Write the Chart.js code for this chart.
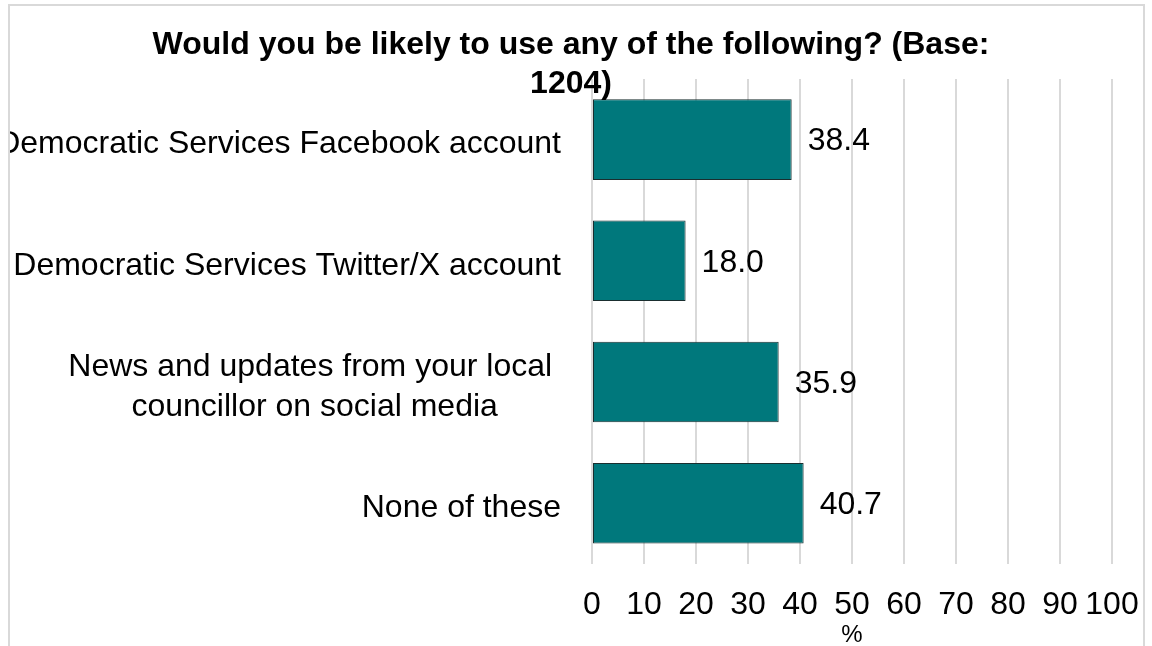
<!DOCTYPE html>
<html>
<head>
<meta charset="utf-8">
<script src="https://cdn.jsdelivr.net/npm/chart.js@4"></script>
<style>
  body { margin: 0; background: #fff; overflow: hidden; }
  .frame {
    position: absolute; left: 8px; top: 4px;
    width: 1133px; height: 700px;
    border: 2px solid #d9d9d9;
    overflow: hidden;
  }
  canvas { position: absolute; left: 0; top: 0; }
</style>
</head>
<body>
<div class="frame">
  <canvas id="likelyChart" width="1133" height="644"></canvas>
</div>
<script>
// Chart data
var titleLines = ['Would you be likely to use any of the following? (Base:', '1204)'];
var categories = [
    ['Democratic Services Facebook account'],
    ['Democratic Services Twitter/X account'],
    ['News and updates from your local ', 'councillor on social media'],
    ['None of these']
];
var percentValues = [38.4, 18.0, 35.9, 40.7];
var xTicks = [0, 10, 20, 30, 40, 50, 60, 70, 80, 90, 100];
var xTitle = '%';

var fontFamily = '"Liberation Sans", Arial, sans-serif';

// Title drawn on top of the plot (it overlaps the gridlines in the original)
var titlePlugin = {
    id: 'overlayTitle',
    afterDraw: function (chart) {
        var ctx = chart.ctx;
        ctx.save();
        ctx.font = 'bold 32px ' + fontFamily;
        ctx.fillStyle = '#000';
        ctx.textAlign = 'center';
        ctx.textBaseline = 'alphabetic';
        titleLines.forEach(function (line, i) {
            ctx.fillText(line, 561, 48 + i * 39);
        });
        ctx.restore();
    }
};

// Category labels: right aligned block, wrapped lines centred in the block
var categoryLabelPlugin = {
    id: 'categoryLabels',
    afterDraw: function (chart) {
        var ctx = chart.ctx;
        var yScale = chart.scales.y;
        var right = chart.chartArea.left - 31;
        ctx.save();
        ctx.font = '32px ' + fontFamily;
        ctx.fillStyle = '#000';
        ctx.textBaseline = 'middle';
        categories.forEach(function (lines, i) {
            var yMid = yScale.getPixelForTick(i) + 5;
            var lineH = 40;
            var top = yMid - (lines.length - 1) * lineH / 2;
            if (lines.length === 1) {
                ctx.textAlign = 'right';
                ctx.fillText(lines[0], right, yMid);
            } else {
                var widest = Math.max.apply(null, lines.map(function (l) { return ctx.measureText(l).width; }));
                ctx.textAlign = 'center';
                lines.forEach(function (l, j) {
                    ctx.fillText(l, right - widest / 2, top + j * lineH);
                });
            }
        });
        ctx.restore();
    }
};

// Value labels to the right of each bar
var valueLabelPlugin = {
    id: 'valueLabels',
    afterDatasetsDraw: function (chart) {
        var ctx = chart.ctx;
        var meta = chart.getDatasetMeta(0);
        ctx.save();
        ctx.font = '32px ' + fontFamily;
        ctx.fillStyle = '#000';
        ctx.textAlign = 'left';
        ctx.textBaseline = 'middle';
        meta.data.forEach(function (bar, i) {
            ctx.fillText(percentValues[i].toFixed(1), bar.x + 16, bar.y + 2);
        });
        ctx.restore();
    }
};

var ctx = document.getElementById('likelyChart').getContext('2d');

var likelyChart = new Chart(ctx, {
    type: 'bar',
    data: {
        labels: categories.map(function (c) { return c.join(''); }),
        datasets: [{
            data: percentValues,
            backgroundColor: '#00787c',
            borderColor: '#1a2e2f',
            borderWidth: 1,
            borderSkipped: false,
            categoryPercentage: 1,
            barPercentage: 0.665
        }]
    },
    options: {
        indexAxis: 'y',
        responsive: false,
        animation: false,
        layout: {
            padding: { top: 73, left: 582, right: 31, bottom: 0 }
        },
        plugins: {
            legend: { display: false },
            title: { display: false },
            tooltip: { enabled: false }
        },
        scales: {
            x: {
                min: 0,
                max: 100,
                afterBuildTicks: function (scale) {
                    scale.ticks = xTicks.map(function (v) { return { value: v }; });
                },
                grid: {
                    color: '#d9d9d9',
                    lineWidth: 2,
                    drawTicks: true,
                    tickLength: 19,
                    tickColor: 'rgba(0,0,0,0)'
                },
                border: { display: false },
                ticks: {
                    autoSkip: false,
                    maxRotation: 0,
                    padding: 3,
                    color: '#000',
                    font: { family: fontFamily, size: 32 }
                },
                title: {
                    display: true,
                    text: xTitle,
                    color: '#000',
                    padding: { top: -6, bottom: 0 },
                    font: { family: fontFamily, size: 24 }
                }
            },
            y: {
                display: false
            }
        }
    },
    plugins: [valueLabelPlugin, categoryLabelPlugin, titlePlugin]
});
</script>
</body>
</html>
